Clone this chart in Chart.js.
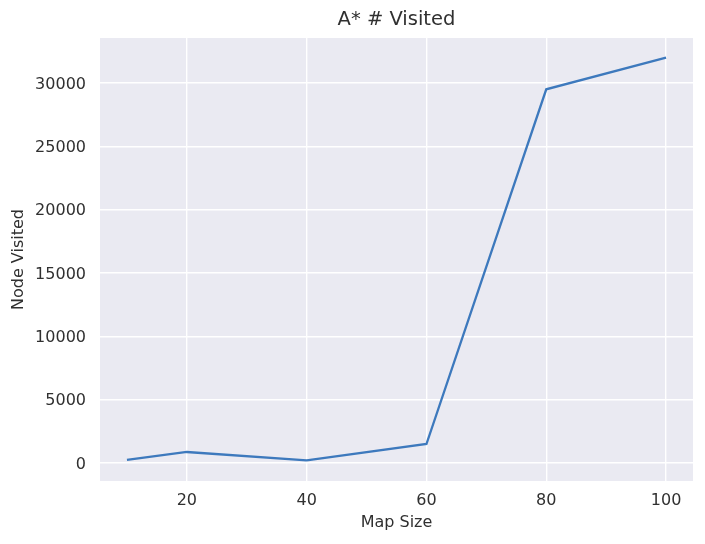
<!DOCTYPE html>
<html lang="en">
<head>
    <meta charset="utf-8">
    <script src="https://cdn.jsdelivr.net/npm/chart.js"></script>
    <style>
        html, body { margin: 0; padding: 0; background: #ffffff; }
        .chart-box { width: 705px; height: 544px; position: relative; }
    </style>
</head>
<body>
    <div class="chart-box">
        <canvas id="visitedChart"></canvas>
    </div>

    <script>
        // values
        const mapSizes = [10, 20, 40, 60, 80, 100];
        const nodesVisited = [250, 870, 200, 1500, 29500, 32000];
        const xTicks = [20, 40, 60, 80, 100];
        const yTicks = [0, 5000, 10000, 15000, 20000, 25000, 30000];

        const textColor = '#303030';
        const fontFamily = "'DejaVu Sans', sans-serif";

        // seaborn style grey panel behind the grid
        const panelBackground = {
            id: 'panelBackground',
            beforeDraw(chart) {
                const { ctx, chartArea } = chart;
                ctx.save();
                ctx.fillStyle = '#eaeaf2';
                ctx.fillRect(chartArea.left, chartArea.top,
                    chartArea.right - chartArea.left, chartArea.bottom - chartArea.top);
                ctx.restore();
            }
        };

        const ctx = document.getElementById('visitedChart').getContext('2d');
        new Chart(ctx, {
            type: 'line',
            data: {
                datasets: [{
                    label: 'A*',
                    data: mapSizes.map((x, i) => ({ x: x, y: nodesVisited[i] })),
                    borderColor: '#3d79bd',
                    borderWidth: 2.3,
                    pointRadius: 0,
                    tension: 0,
                    fill: false
                }]
            },
            options: {
                responsive: true,
                maintainAspectRatio: false,
                animation: false,
                layout: { padding: { left: 0, right: 12, top: 0, bottom: 0 } },
                plugins: {
                    legend: { display: false },
                    tooltip: { enabled: false },
                    title: {
                        display: true,
                        fullSize: false,   // centre over the plot area, like matplotlib
                        text: 'A* # Visited',
                        color: textColor,
                        font: { family: fontFamily, size: 19.5, weight: 'normal' },
                        padding: { top: 8.3, bottom: 6.3 }
                    }
                },
                scales: {
                    x: {
                        type: 'linear',
                        min: 5.5,
                        max: 104.5,
                        afterBuildTicks: (scale) => { scale.ticks = xTicks.map(v => ({ value: v })); },
                        afterFit: (scale) => { scale.height = 63; },
                        ticks: {
                            color: textColor,
                            padding: 10,
                            font: { family: fontFamily, size: 16 }
                        },
                        grid: { color: '#ffffff', lineWidth: 1.4, drawTicks: false },
                        border: { display: false },
                        title: {
                            display: true,
                            text: 'Map Size',
                            color: textColor,
                            font: { family: fontFamily, size: 16 },
                            padding: { top: 0, bottom: 12 }
                        }
                    },
                    y: {
                        type: 'linear',
                        min: -1421,
                        max: 33552,
                        afterBuildTicks: (scale) => { scale.ticks = yTicks.map(v => ({ value: v })); },
                        afterFit: (scale) => { scale.width = 100; },
                        ticks: {
                            color: textColor,
                            padding: 14,
                            labelOffset: 1.5,
                            font: { family: fontFamily, size: 16 },
                            callback: (v) => String(v)
                        },
                        grid: { color: '#ffffff', lineWidth: 1.4, drawTicks: false },
                        border: { display: false },
                        title: {
                            display: true,
                            text: 'Node Visited',
                            color: textColor,
                            font: { family: fontFamily, size: 16 },
                            padding: { top: 9, bottom: 0 }
                        }
                    }
                }
            },
            plugins: [panelBackground]
        });
    </script>
</body>
</html>
